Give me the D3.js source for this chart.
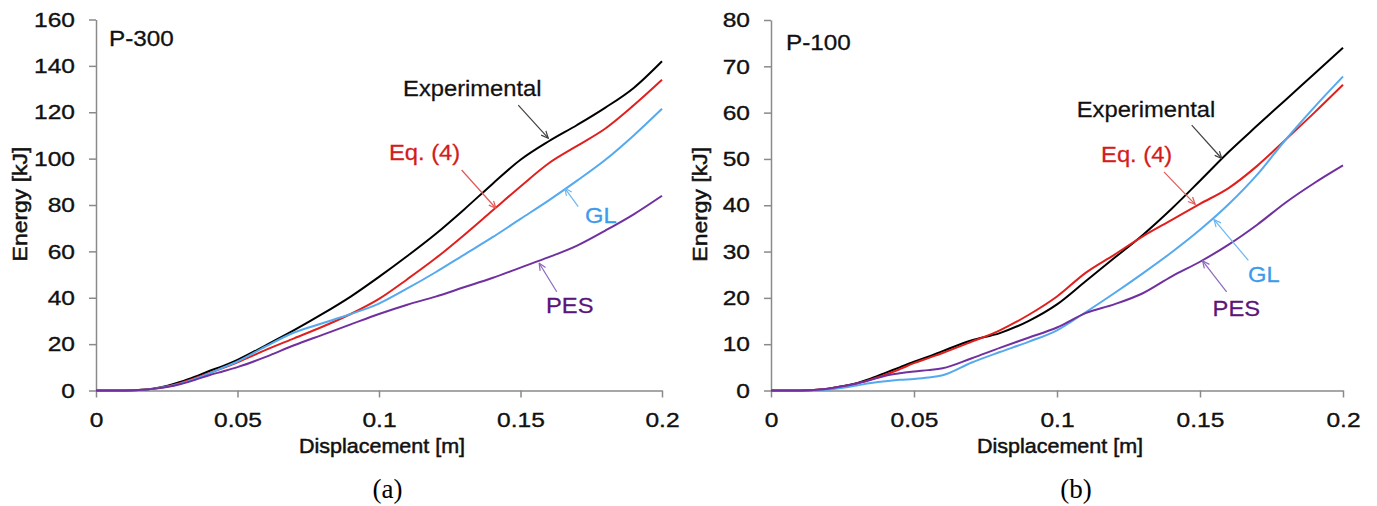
<!DOCTYPE html>
<html><head><meta charset="utf-8">
<script src="https://cdn.jsdelivr.net/npm/d3@7"></script>
<style>
body{margin:0;background:#fff}
svg{display:block;font-family:"Liberation Sans",Arial,sans-serif}
</style></head><body>
<svg id="chart" width="1377" height="506"></svg>
<script>
// ---------- data ----------
const seriesNames = ["Experimental", "Eq. (4)", "GL", "PES"];
const xTicks = [0, 0.05, 0.1, 0.15, 0.2];
const yTicks300 = [0, 20, 40, 60, 80, 100, 120, 140, 160];
const yTicks100 = [0, 10, 20, 30, 40, 50, 60, 70, 80];

// Panel (a) P-300
const disp300 = [0,0.01,0.015,0.02,0.025,0.03,0.035,0.04,0.045,0.05,0.06,0.07,0.08,0.09,0.1,0.11,0.12,0.13,0.14,0.15,0.16,0.17,0.18,0.19,0.2];
const exp300  = [0,0,0.2,0.8,2.0,3.8,6.0,8.4,10.6,13.2,19.5,26.0,33.0,40.5,49,58,67.5,78,89,99.5,107.5,114.5,122,130.5,142];
const eq300   = [0,0,0.2,0.7,1.7,3.3,5.3,7.5,9.8,12.2,17.5,22.5,27.5,33,39.5,48,57,67,77.5,88,98,105.5,113,123,134];
const gl300   = [0,0,0.2,0.7,1.6,3.0,5.0,7.4,9.9,12.5,19.0,25.0,29.0,33,37.5,44,51,58.5,66,74,82,90.5,99.5,110,121.5];
const pes300  = [0,0,0.2,0.7,1.5,2.8,4.6,6.6,8.3,10.1,14.5,19.5,24,28.5,33,37,40.5,44.5,48.5,53,57.5,62.5,69,76,84];

// Panel (b) P-100
const disp100 = [0,0.01,0.015,0.02,0.025,0.03,0.035,0.04,0.045,0.05,0.055,0.06,0.07,0.08,0.09,0.1,0.11,0.12,0.13,0.14,0.15,0.16,0.17,0.18,0.19,0.2];
const exp100  = [0,0,0.1,0.4,0.9,1.6,2.6,3.8,5.0,6.2,7.3,8.5,10.8,12.4,15.0,18.6,23.6,28.6,33.6,39.2,45.3,51.5,57.2,62.8,68.4,74];
const eq100   = [0,0,0.1,0.4,0.9,1.5,2.4,3.4,4.6,5.9,7.0,8.1,10.5,13.0,16.3,20.3,25.4,29.3,33.3,36.8,40.3,43.7,48.5,54.2,60,66];
const gl100   = [0,0,0.05,0.2,0.6,1.1,1.6,2.0,2.3,2.5,2.8,3.3,6.0,8.3,10.5,13.0,16.9,21.0,25.3,29.8,34.7,40.2,46.6,54.2,61.2,67.8];
const pes100  = [0,0,0.1,0.4,0.9,1.5,2.3,3.2,3.7,4.1,4.4,4.8,6.9,9.2,11.4,13.6,16.7,18.6,21.0,24.6,27.8,31.5,35.8,40.6,44.8,48.6];

// annotations (data units: displacement m, energy kJ)
const annot300TextX = [0.1085, 0.1035, 0.1728, 0.159];
const annot300TextY = [126.8, 99.4, 72.4, 33.4];
const annot300From  = [[0.1492,123.1],[0.1292,95.1],[0.1704,79.3],[0.1628,42.6]];
const annot300To    = [[0.1598,108.8],[0.1413,78.6],[0.1657,87.2],[0.1566,54.9]];
const annot100TextX = [0.1069, 0.1154, 0.1668, 0.1544];
const annot100TextY = [59.0, 49.3, 23.5, 16.1];
const annot100From  = [[0.1471,57.3],[0.1374,47.2],[0.1669,28.1],[0.1593,21.3]];
const annot100To    = [[0.1576,50.1],[0.1483,40.2],[0.1549,36.9],[0.1509,28.0]];

// ---------- styles ----------
const lineColors  = ["#000000", "#e0201e", "#55a9ee", "#7030a0"];
const labelColors = ["#111111", "#d41c1c", "#3d9bea", "#5c1578"];
const arrowColors = ["#404040", "#e25858", "#6cb6f2", "#8a68c0"];
const axisColor = "#8a8a8a";

const svg = d3.select("#chart");
svg.append("rect").attr("width",1377).attr("height",506).attr("fill","#fff");

const defs = svg.append("defs");
arrowColors.forEach((c,i)=>{
  defs.append("marker").attr("id","arr"+i)
    .attr("viewBox","0 0 8 8").attr("refX",7.5).attr("refY",4)
    .attr("markerWidth",8).attr("markerHeight",8)
    .attr("markerUnits","userSpaceOnUse").attr("orient","auto")
    .append("path").attr("d","M0.5,0.8 L7.5,4 L0.5,7.2")
    .attr("fill","none").attr("stroke",c).attr("stroke-width",1.2);
});

function stretchText(sel, s){
  sel.each(function(){
    const t = d3.select(this);
    const x = +(t.attr("x")||0);
    t.attr("x", x/s).attr("transform", `scale(${s},1)`);
  });
}
function freeText(g, txt, px, py, opts){
  const s = opts.stretch || 1;
  let tr = `translate(${px},${py})`;
  if (opts.rotate) tr += ` rotate(${opts.rotate})`;
  tr += ` scale(${s},1)`;
  const c = opts.color || "#000";
  return g.append("text").attr("transform", tr)
    .attr("text-anchor", opts.anchor || "start")
    .attr("font-size", opts.size).attr("fill", c)
    .attr("stroke", opts.heavy ? c : null).attr("stroke-width", opts.heavy || null)
    .attr("font-family", opts.family || null)
    .text(txt);
}

function panel(cfg){
  const x = d3.scaleLinear().domain([0,0.2]).range(cfg.xr);
  const y = d3.scaleLinear().domain([0,cfg.yMax]).range(cfg.yr);
  const g = svg.append("g");

  // axes
  const ax = g.append("g").attr("transform",`translate(0,${cfg.yr[0]})`)
    .call(d3.axisBottom(x).tickValues(xTicks).tickFormat(d=>d===0?"0":String(d))
      .tickSize(7).tickPadding(15).tickSizeOuter(0));
  const ay = g.append("g").attr("transform",`translate(${cfg.xr[0]},0)`)
    .call(d3.axisLeft(y).tickValues(cfg.yTicks).tickFormat(d3.format("d"))
      .tickSize(7).tickPadding(14).tickSizeOuter(0));
  [ax,ay].forEach(a=>{
    a.selectAll("path,line").attr("stroke",axisColor).attr("stroke-width",1.5);
    a.selectAll("text").attr("font-size",21).attr("fill","#111")
      .attr("stroke","#111").attr("stroke-width",0.35)
      .attr("font-family",'"Liberation Sans",Arial,sans-serif');
    stretchText(a.selectAll("text"), 1.17);
  });

  // lines
  const line = d3.line().x(d=>x(d[0])).y(d=>y(d[1])).curve(d3.curveMonotoneX);
  cfg.series.forEach((vals,i)=>{
    g.append("path").datum(cfg.disp.map((d,k)=>[d,vals[k]]))
      .attr("d",line).attr("fill","none")
      .attr("stroke",lineColors[i]).attr("stroke-width",2)
      .attr("stroke-linejoin","round");
  });

  // annotations
  seriesNames.forEach((name,i)=>{
    g.append("line")
      .attr("x1",x(cfg.from[i][0])).attr("y1",y(cfg.from[i][1]))
      .attr("x2",x(cfg.to[i][0])).attr("y2",y(cfg.to[i][1]))
      .attr("stroke",arrowColors[i]).attr("stroke-width",1.2)
      .attr("marker-end",`url(#arr${i})`);
    freeText(g, name, x(cfg.tx[i]), y(cfg.ty[i]), {size:22, stretch:1.08, color:labelColors[i], heavy:0.25});
  });

  // titles
  freeText(g, cfg.title, cfg.titlePos[0], cfg.titlePos[1], {size:22.5, stretch:1.08, color:"#111", heavy:0.3});
  freeText(g, "Displacement [m]", (cfg.xr[0]+cfg.xr[1])/2 + 3, 453, {size:20.5, stretch:1.05, anchor:"middle", color:"#111", heavy:0.5});
  freeText(g, "Energy [kJ]", cfg.yLabelX, (cfg.yr[0]+cfg.yr[1])/2 - 1, {size:20.5, stretch:1.12, anchor:"middle", rotate:-90, color:"#111", heavy:0.5});
  freeText(g, cfg.caption, cfg.capX, 498, {size:27, anchor:"middle", color:"#000", family:'"Liberation Serif","Times New Roman",serif'});
}

panel({xr:[96,662], yr:[390.5,19.5], yMax:160, yTicks:yTicks300,
  disp:disp300, series:[exp300,eq300,gl300,pes300],
  tx:annot300TextX, ty:annot300TextY, from:annot300From, to:annot300To,
  title:"P-300", titlePos:[109,46], yLabelX:27, caption:"(a)", capX:387.5});
panel({xr:[771,1343], yr:[390.5,20], yMax:80, yTicks:yTicks100,
  disp:disp100, series:[exp100,eq100,gl100,pes100],
  tx:annot100TextX, ty:annot100TextY, from:annot100From, to:annot100To,
  title:"P-100", titlePos:[786,50], yLabelX:707, caption:"(b)", capX:1076});
</script>
</body></html>
